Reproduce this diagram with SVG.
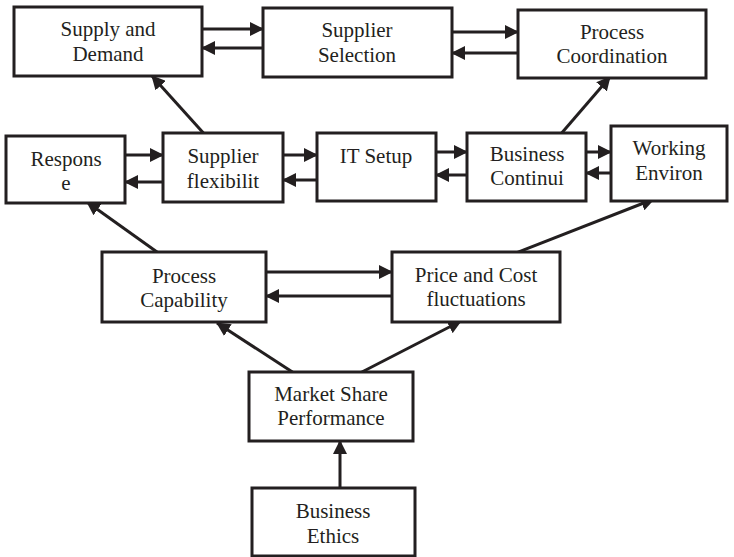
<svg xmlns="http://www.w3.org/2000/svg" width="734" height="557" viewBox="0 0 734 557">
  <style>
    .box { fill: #ffffff; stroke: #231f20; stroke-width: 3; }
    .lbl { font-family: "Liberation Serif", "DejaVu Serif", "Noto Serif", serif; font-size: 21px; fill: #231f20; text-anchor: middle; }
    .edge { stroke: #231f20; stroke-width: 3; fill: none; marker-end: url(#arrow); }
  </style>
  <defs>
    <marker id="arrow" markerUnits="userSpaceOnUse" markerWidth="14" markerHeight="14" viewBox="0 0 14 14" refX="13" refY="7" orient="auto">
      <path d="M0,0 L14,7 L0,14 z" fill="#231f20"/>
    </marker>
  </defs>
  <rect width="734" height="557" fill="#ffffff"/>

  <g id="connectors">
    <!-- top row -->
    <line class="edge" x1="202" y1="29" x2="263" y2="29"/>
    <line class="edge" x1="263" y1="48" x2="202" y2="48"/>
    <line class="edge" x1="452" y1="32" x2="518" y2="32"/>
    <line class="edge" x1="518" y1="53" x2="452" y2="53"/>
    <!-- middle row -->
    <line class="edge" x1="125" y1="155" x2="163" y2="155"/>
    <line class="edge" x1="163" y1="182" x2="125" y2="182"/>
    <line class="edge" x1="283" y1="155" x2="317" y2="155"/>
    <line class="edge" x1="317" y1="180" x2="283" y2="180"/>
    <line class="edge" x1="436" y1="152" x2="467" y2="152"/>
    <line class="edge" x1="467" y1="175" x2="436" y2="175"/>
    <line class="edge" x1="586" y1="152" x2="611" y2="152"/>
    <line class="edge" x1="611" y1="173" x2="586" y2="173"/>
    <!-- upward diagonals to top row -->
    <line class="edge" x1="207" y1="137" x2="152" y2="76"/>
    <line class="edge" x1="560" y1="135" x2="610" y2="77"/>
    <!-- third row -->
    <line class="edge" x1="266" y1="272" x2="392" y2="272"/>
    <line class="edge" x1="392" y1="296" x2="266" y2="296"/>
    <line class="edge" x1="164" y1="257" x2="87" y2="202"/>
    <line class="edge" x1="503" y1="258" x2="654" y2="199"/>
    <!-- bottom -->
    <line class="edge" x1="297" y1="375" x2="217" y2="323"/>
    <line class="edge" x1="360" y1="373" x2="461" y2="321"/>
    <line class="edge" x1="340" y1="488" x2="340" y2="441"/>
  </g>

  <g id="supply-demand">
    <rect class="box" x="14" y="7" width="188" height="69"/>
    <text class="lbl" x="108" y="36">Supply and</text>
    <text class="lbl" x="108" y="61">Demand</text>
  </g>
  <g id="supplier-selection">
    <rect class="box" x="263" y="8" width="189" height="69"/>
    <text class="lbl" x="357" y="37">Supplier</text>
    <text class="lbl" x="357" y="62">Selection</text>
  </g>
  <g id="process-coordination">
    <rect class="box" x="518" y="10" width="188" height="68"/>
    <text class="lbl" x="612" y="39">Process</text>
    <text class="lbl" x="612" y="63">Coordination</text>
  </g>

  <g id="response">
    <rect class="box" x="6" y="136" width="119" height="67"/>
    <text class="lbl" x="66" y="166">Respons</text>
    <text class="lbl" x="66" y="190">e</text>
  </g>
  <g id="supplier-flexibility">
    <rect class="box" x="163" y="133" width="120" height="69"/>
    <text class="lbl" x="223" y="163">Supplier</text>
    <text class="lbl" x="223" y="188">flexibilit</text>
  </g>
  <g id="it-setup">
    <rect class="box" x="317" y="133" width="119" height="68"/>
    <text class="lbl" x="376" y="163">IT Setup</text>
  </g>
  <g id="business-continuity">
    <rect class="box" x="467" y="133" width="119" height="68"/>
    <text class="lbl" x="527" y="161">Business</text>
    <text class="lbl" x="527" y="185">Continui</text>
  </g>
  <g id="working-environment">
    <rect class="box" x="611" y="126" width="116" height="75"/>
    <text class="lbl" x="669" y="155">Working</text>
    <text class="lbl" x="669" y="180">Environ</text>
  </g>

  <g id="process-capability">
    <rect class="box" x="102" y="252" width="164" height="70"/>
    <text class="lbl" x="184" y="283">Process</text>
    <text class="lbl" x="184" y="307">Capability</text>
  </g>
  <g id="price-cost">
    <rect class="box" x="392" y="252" width="168" height="70"/>
    <text class="lbl" x="476" y="282">Price and Cost</text>
    <text class="lbl" x="476" y="306">fluctuations</text>
  </g>

  <g id="market-share">
    <rect class="box" x="249" y="372" width="164" height="69"/>
    <text class="lbl" x="331" y="401">Market Share</text>
    <text class="lbl" x="331" y="425">Performance</text>
  </g>
  <g id="business-ethics">
    <rect class="box" x="252" y="488" width="163" height="68"/>
    <text class="lbl" x="333" y="518">Business</text>
    <text class="lbl" x="333" y="543">Ethics</text>
  </g>
</svg>
